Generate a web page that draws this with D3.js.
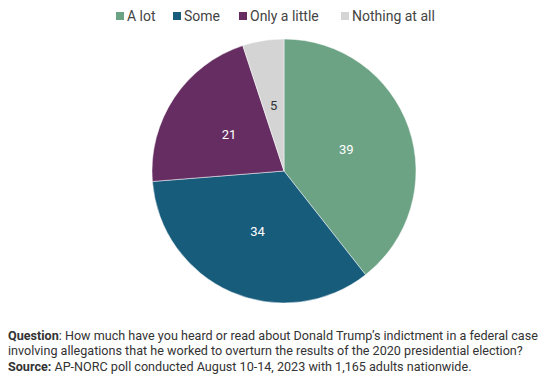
<!DOCTYPE html>
<html>
<head>
<meta charset="utf-8">
<script src="https://cdn.jsdelivr.net/npm/d3@7"></script>
<style>
  body { margin: 0; background: #fff; }
  svg { display: block; font-family: Roboto, "Noto Sans", sans-serif; }
</style>
</head>
<body>
<div id="chart"></div>
<script>
var categories = ["A lot", "Some", "Only a little", "Nothing at all"];
var values = [39, 34, 21, 5];
var colors = ["#6da385", "#185c7c", "#652d62", "#d4d4d4"];
var labelColors = ["#fff", "#fff", "#fff", "#333"];

var width = 552, height = 374;
var cx = 284, cy = 171, radius = 132;

var svg = d3.select("#chart").append("svg")
    .attr("width", width)
    .attr("height", height);

// legend
var legendX = [116, 173, 239, 341];
var legend = svg.selectAll("g.legend")
    .data(categories)
    .enter()
    .append("g")
    .attr("class", "legend")
    .attr("transform", function (d, i) { return "translate(" + legendX[i] + ",16)"; });

legend.append("rect")
    .attr("x", 0).attr("y", -4)
    .attr("width", 8).attr("height", 8)
    .style("fill", function (d, i) { return colors[i]; });

legend.append("text")
    .attr("x", 11)
    .attr("y", 5)
    .style("font-size", "14px")
    .style("fill", "#444")
    .text(function (d) { return d; });

// pie
var pie = d3.pie().sort(null)(values);
var arc = d3.arc().innerRadius(0).outerRadius(radius);

var g = svg.append("g").attr("transform", "translate(" + cx + "," + cy + ")");

g.selectAll("path")
    .data(pie)
    .enter()
    .append("path")
    .attr("d", arc)
    .style("fill", function (d, i) { return colors[i]; })
    .style("stroke", "#fff")
    .style("stroke-width", 0.5);

g.selectAll("text")
    .data(pie)
    .enter()
    .append("text")
    .attr("transform", function (d) { return "translate(" + arc.centroid(d) + ")"; })
    .attr("text-anchor", "middle")
    .attr("dy", "0.35em")
    .style("font-size", "13px")
    .style("fill", function (d, i) { return labelColors[i]; })
    .text(function (d) { return d.data; });

// footer
var notes = svg.append("g").style("font-size", "12.6px").style("fill", "#333");

var t1 = notes.append("text").attr("x", 8).attr("y", 340);
t1.append("tspan").style("font-weight", "bold").text("Question");
t1.append("tspan").text(": How much have you heard or read about Donald Trump\u2019s indictment in a federal case");

notes.append("text").attr("x", 8).attr("y", 355)
    .text("involving allegations that he worked to overturn the results of the 2020 presidential election?");

var t3 = notes.append("text").attr("x", 8).attr("y", 371);
t3.append("tspan").style("font-weight", "bold").text("Source:");
t3.append("tspan").text(" AP-NORC poll conducted August 10-14, 2023 with 1,165 adults nationwide.");
</script>
</body>
</html>
